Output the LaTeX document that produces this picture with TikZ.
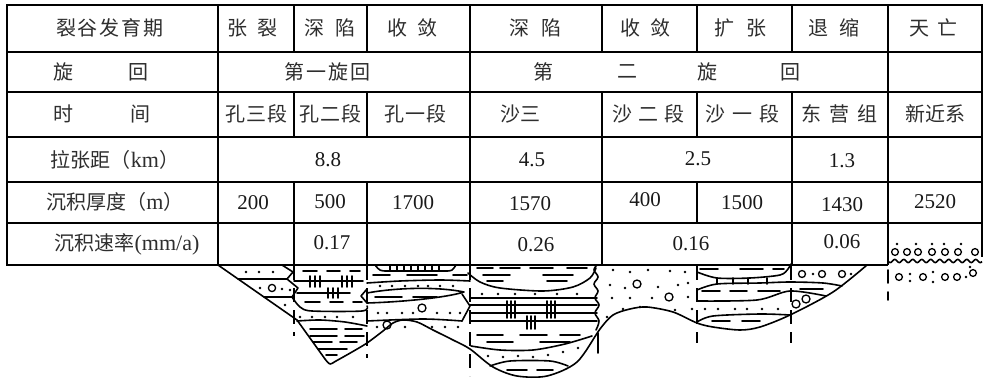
\documentclass[tikz,border=0pt]{standalone}
\usepackage{fontspec}
\setmainfont{Liberation Serif}
\newfontfamily\cjk{Noto Sans CJK SC}
\newcommand{\latn}[1]{{\rmfamily\fontsize{22}{24}\selectfont #1}}
\begin{document}
\begin{tikzpicture}[x=1pt,y=-1pt]
\tikzset{
 tbl/.style={line width=2pt},
 sec/.style={line width=1.6pt, line cap=round, line join=round},
 vd/.style={line width=1.6pt, dash pattern=on 14pt off 8pt},
 tx/.style={inner sep=0pt, text=black!82, font=\cjk\fontsize{20}{24}\selectfont},
 num/.style={inner sep=0pt, text=black!90, font=\fontsize{21}{24}\selectfont},
 peb/.style={line width=1.3pt},
}
\fill[white] (0,0) rectangle (986,380);
\useasboundingbox (0,0) rectangle (986,380);
% ---------------- table ----------------
\foreach \y in {5,52,92,137,182,223} \draw[tbl] (7,\y) -- (982,\y);
\draw[tbl] (7,265) -- (888,265);
\draw[tbl] (7,4) -- (7,266);
\draw[tbl] (982,4) -- (982,257);
\draw[tbl] (218,5) -- (218,265);
\draw[tbl] (470,5) -- (470,265);
\draw[tbl] (888,5) -- (888,265);
\foreach \x in {294,367} {
  \draw[tbl] (\x,5) -- (\x,52);
  \draw[tbl] (\x,92) -- (\x,137);
  \draw[tbl] (\x,182) -- (\x,265);
}
\draw[tbl] (602,5) -- (602,52);  \draw[tbl] (602,92) -- (602,265);
\draw[tbl] (697,5) -- (697,52);  \draw[tbl] (697,92) -- (697,137);  \draw[tbl] (697,182) -- (697,223);
\draw[tbl] (792,5) -- (792,52);  \draw[tbl] (792,92) -- (792,265);
\draw[line width=1.6pt] plot[domain=0:94, samples=90, smooth] ({888+\x},{261+1.6*sin(40*\x)});
% row 1
\node[tx] (r1a) at (110,28) {裂\hspace{2pt}谷\hspace{2pt}发\hspace{2pt}育\hspace{2pt}期};
\node[tx] (r1b) at (252,28) {张\hspace{10pt}裂};
\node[tx] (r1c) at (330,28) {深\hspace{11pt}陷};
\node[tx] (r1d) at (412,28) {收\hspace{10pt}敛};
\node[tx] (r1e) at (535,28) {深\hspace{12pt}陷};
\node[tx] (r1f) at (645,28) {收\hspace{10pt}敛};
\node[tx] (r1g) at (740,28) {扩\hspace{12pt}张};
\node[tx] (r1h) at (834,28) {退\hspace{11pt}缩};
\node[tx] (r1i) at (933,28) {天\hspace{8pt}亡};
% row 2
\node[tx] (r2a) at (63,72) {旋};
\node[tx] (r2b) at (138,72) {回};
\node[tx] (r2c) at (327,72) {第\hspace{2pt}一\hspace{2pt}旋\hspace{2pt}回};
\node[tx] (r2d) at (543,72) {第};
\node[tx] (r2e) at (627,72) {二};
\node[tx] (r2f) at (707,72) {旋};
\node[tx] (r2g) at (790,72) {回};
% row 3
\node[tx] (r3a) at (63,114) {时};
\node[tx] (r3b) at (140,114) {间};
\node[tx] (r3c) at (256,114) {孔\hspace{1pt}三\hspace{1pt}段};
\node[tx] (r3d) at (330,114) {孔\hspace{1pt}二\hspace{1pt}段};
\node[tx] (r3e) at (415,114) {孔\hspace{1pt}一\hspace{1pt}段};
\node[tx] (r3f) at (520,114) {沙三};
\node[tx] (r3g) at (648,114) {沙\hspace{6pt}二\hspace{6pt}段};
\node[tx] (r3h) at (742,114) {沙\hspace{7pt}一\hspace{7pt}段};
\node[tx] (r3i) at (839,114) {东\hspace{8pt}营\hspace{8pt}组};
\node[tx] (r3j) at (935,114) {新近系};
% row 4
\node[tx] (r4a) at (115,160) {拉张距（\latn{km}）};
\node[num] (r4b) at (328,160) {8.8};
\node[num] (r4c) at (532,160) {4.5};
\node[num] (r4d) at (698,159) {2.5};
\node[num] (r4e) at (842,161) {1.3};
% row 5
\node[tx] (r5a) at (115,202) {沉积厚度（\latn{m}）};
\node[num] (r5b) at (253,203) {200};
\node[num] (r5c) at (330,202) {500};
\node[num] (r5d) at (413,203) {1700};
\node[num] (r5e) at (530,204) {1570};
\node[num] (r5f) at (645,200) {400};
\node[num] (r5g) at (742,203) {1500};
\node[num] (r5h) at (842,205) {1430};
\node[num] (r5i) at (935,202) {2520};
% row 6
\node[tx] (r6a) at (127,244) {沉积速率\latn{(mm/a)}};
\node[num] (r6b) at (332,243) {0.17};
\node[num] (r6c) at (536,245) {0.26};
\node[num] (r6d) at (691,244) {0.16};
\node[num] (r6e) at (842,242) {0.06};
% gravel in last cell
\foreach \x in {895,907,918,932,945,958,975} \draw[peb] (\x,252) circle (3.4pt);
\foreach \x in {897,916,932,944,961} \fill (\x,244) circle (1.3pt);
\foreach \x/\y in {899/277,923/277,945/277,957/277,973/273} \draw[peb] (\x,\y) circle (3.4pt);
\foreach \x/\y in {910/274,910/281,933/272,933/282,966/277,970/267} \fill (\x,\y) circle (1.3pt);
\draw[sec] (888,270) -- (888,283);
\draw[sec] (888,292) -- (888,300);
% ---------------- section ----------------
% outline
\draw[sec] (218,265) -- (297,320) -- (325,359);
\draw[sec] plot[smooth, tension=0.5] coordinates {(325,359) (330,364) (336,361) (352,352) (367,343) (383,331) (393,323) (403,320) (417,322) (433,330) (453,340) (470,349) (493,367) (517,376) (547,376) (577,362) (600,329) (613,315) (630,309) (647,307) (673,312) (697,323) (713,327) (740,330) (760,327) (790,315) (833,292) (867,265)};
% vertical dashed time lines
\draw[vd] (294,266) -- (294,336);
\draw[vd] (367,266) -- (367,358);
\draw[vd] (470,266) -- (470,376);
\draw[sec] (598,333) -- (598,353);
\draw[vd] (697,266) -- (697,343);
\draw[vd] (791,266) -- (791,343);
% region A
\draw[sec] (282,265) -- (293,272) -- (287,279) -- (298,288) -- (292,297);
\draw[sec] (238,279) -- (287,279);
\draw[sec] (264,297) -- (292,297);
\foreach \p in {(246,272),(259,272),(273,272),(260,288),(282,289),(290,290),(285,305)} \fill \p circle (1.3pt);
\draw[peb] (272,288) circle (3.6pt);
% region B
\foreach \y/\a/\b in {271/303/317,271/327/340,271/350/360,302/305/320,302/330/343,302/353/362,
  329/310/337,329/345/362,336/310/337,336/345/364,342/313/332,342/340/357,349/318/347,355/326/337}
  \draw[sec] (\a,\y) -- (\b,\y);
\draw[sec] (294,281) -- (363,281);
\foreach \x in {310,315,320,342,347,352} \draw[sec] (\x,276) -- (\x,287);
\draw[sec] (297,293) -- (350,293);
\foreach \x in {328,333,338} \draw[sec] (\x,288) -- (\x,298);
\draw[sec] plot[smooth, tension=0.5] coordinates {(292,297) (300,307) (312,311) (362,311) (367,306)};
\draw[sec] (367,289) -- (361,296) -- (367,303);
\foreach \x in {300,312,325,337,353} \fill (\x,317) circle (1.3pt);
\draw[sec] plot[smooth, tension=0.5] coordinates {(297,321) (320,320) (345,322) (367,326)};
% region C
\draw[sec] (375,265) .. controls (380,271) .. (388,271) -- (445,271) .. controls (452,271) .. (456,265);
\foreach \x in {390,397,...,444} \draw[sec] (\x,265) -- (\x,271);
\foreach \y/\a/\b in {275/373/390,275/407/437,275/453/467,297/375/402,297/413/437}
  \draw[sec] (\a,\y) -- (\b,\y);
\draw[sec] plot[smooth, tension=0.5] coordinates {(367,283) (400,281) (440,280) (470,281)};
\foreach \x in {380,392,405,418,428,440,453} \fill (\x,286) circle (1.3pt);
\draw[sec] (367,293) .. controls (400,287) and (440,287) .. (464,292) .. controls (445,298) and (400,302) .. (367,303);
\foreach \x in {378,387,402,413,437,450,460} \fill (\x,313) circle (1.3pt);
\draw[peb] (422,308) circle (4pt);
\draw[sec] (462,294) -- (470,306) -- (462,321);
\draw[sec] plot[smooth, tension=0.5] coordinates {(367,321) (423,319) (462,321)};
\draw[peb] (387,325) circle (4pt);
\foreach \x in {377,405,432,445,458} \fill (\x,327) circle (1.3pt);
% region D
\foreach \y/\a/\b in {268/477/493,268/500/520,268/530/553,268/567/587,275/483/510,275/543/573,281/487/503,281/547/567,
  335/477/503,335/520/547,335/560/580,342/487/513,342/540/570,370/507/527,370/537/553}
  \draw[sec] (\a,\y) -- (\b,\y);
\draw[sec] plot[smooth, tension=0.5] coordinates {(468,273) (480,282) (500,288) (543,291) (573,287) (590,278) (596,268)};
\foreach \x in {482,498,515,535,557,577} \fill (\x,294) circle (1.3pt);
\foreach \y in {298,305,313,321} \draw[sec] (470,\y) -- (597,\y);
\foreach \x in {507,511,515,547,551,555} \draw[sec] (\x,301) -- (\x,318);
\foreach \x in {527,531,535} \draw[sec] (\x,316) -- (\x,329);
\draw[sec] plot[smooth, tension=0.5] coordinates {(471,346) (500,350) (533,350) (565,344) (592,336)};
\foreach \p in {(488,356),(503,357),(518,356),(533,357),(548,355),(563,352),(578,348)} \fill \p circle (1.3pt);
\draw[sec] plot[smooth, tension=0.5] coordinates {(490,366) (510,361) (550,361) (568,366)};
\draw[sec] plot[smooth, tension=0.6] coordinates {(597,265) (594,270) (598,277) (594,284) (598,291) (595,298) (599,305) (595,313) (599,321) (596,330)};
% region E
\foreach \p in {(613,270),(630,272),(648,270),(670,271),(685,272),(610,285),(625,288),(658,287),(678,285),(688,283),
  (612,298),(630,298),(652,298),(688,297),(623,309),(640,307),(675,310),(607,317),(692,309)} \fill \p circle (1.3pt);
\draw[peb] (637,284) circle (4pt);
\draw[peb] (669,297) circle (4pt);
% region F
\draw[sec] (697,265) -- (697,273);
\draw[sec] plot[smooth, tension=0.5] coordinates {(697,272) (717,278) (750,278) (780,275) (788,269) (791,264)};
\foreach \y/\a/\b in {269/700/718,269/740/763,269/773/784,291/702/720,291/730/747,291/758/780,289/800/823,321/712/730,321/742/760}
  \draw[sec] (\a,\y) -- (\b,\y);
\foreach \x in {717,733,748,767} \draw[sec] (\x,278) -- (\x,284);
\draw[sec] plot[smooth, tension=0.5] coordinates {(697,290) (717,284) (760,283) (790,282) (823,283) (842,286)};
\draw[sec] plot[smooth, tension=0.5] coordinates {(697,301) (757,300) (790,291) (826,296)};
\foreach \x in {705,718,735,747,762,778} \fill (\x,309) circle (1.3pt);
\draw[sec] plot[smooth, tension=0.5] coordinates {(697,322) (713,316) (760,314) (790,315)};
% region G
\foreach \x in {802,822,842} \draw[peb] (\x,274) circle (3.5pt);
\foreach \x in {813,851} \fill (\x,274) circle (1.3pt);
\draw[peb] (796,304) circle (4pt);
\draw[peb] (806,299) circle (4pt);
\end{tikzpicture}
\end{document}
